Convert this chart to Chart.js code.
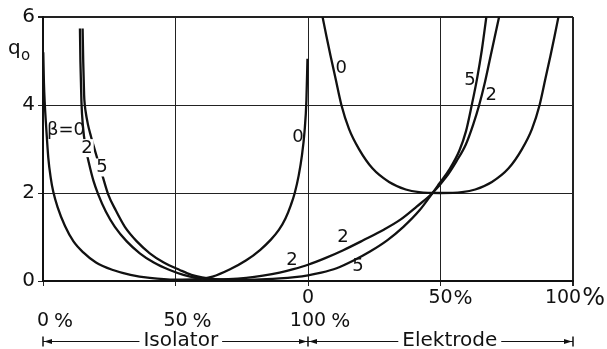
<!DOCTYPE html>
<html>
<head>
<meta charset="utf-8">
<script src="https://cdn.jsdelivr.net/npm/chart.js@4/dist/chart.umd.min.js"></script>
<style>
  html, body { margin: 0; padding: 0; background: #fff; }
  #wrap { width: 607px; height: 349px; position: relative; }
</style>
</head>
<body>
<div id="wrap"><canvas id="c" width="607" height="349"></canvas></div>
<script>
// Position along the gap: 0–100 = Isolator, 100–200 = Elektrode (each in %)
const xTickValues = [0, 50, 100, 150, 200];
const yTickValues = [0, 2, 4, 6];
const isolatorTickLabels = ['0 %', '50 %', '100 %'];   // at 0, 50, 100
const elektrodeTickLabels = ['0', '50%', '100%'];      // at 100, 150, 200

// β = 0, insulator section
const iso0X = [0.1, 0.35, 0.7, 1.2, 2.0, 2.9, 3.9, 5.5, 8.3, 11.5, 15.2, 20, 26.4, 33, 40.3, 50, 58, 64, 70.4, 76.7, 82, 86, 89, 91.5, 93.5, 95, 96.5, 97.7, 98.7, 99.4, 99.8];
const iso0Y = [5.2, 4.5, 4.0, 3.5, 2.8, 2.35, 2.02, 1.68, 1.25, 0.9, 0.65, 0.42, 0.25, 0.14, 0.07, 0.03, 0.04, 0.1, 0.26, 0.47, 0.71, 0.94, 1.16, 1.42, 1.72, 2.0, 2.4, 2.85, 3.4, 4.1, 5.05];

// β = 0, electrode section
const elek0X = [105.5, 107, 108.5, 110.4, 112.6, 115.5, 119.3, 124.3, 130.6, 136.9, 141.9, 150, 158.1, 163.1, 169.4, 175.7, 180.7, 184.5, 187.4, 189.6, 191.5, 193, 194.5];
const elek0Y = [6.0, 5.55, 5.12, 4.6, 4.0, 3.45, 2.99, 2.56, 2.25, 2.08, 2.02, 2.0, 2.02, 2.08, 2.25, 2.56, 2.99, 3.45, 4.0, 4.6, 5.12, 5.55, 6.0];

// β = 2, across both sections
const beta2X = [13.94, 14.12, 14.5, 15.07, 16.01, 17.33, 19.02, 20.83, 23.7, 27.12, 31.6, 36.53, 41.8, 47.8, 53, 58, 64, 70, 76.7, 83, 89.3, 94.5, 100, 106.5, 113.3, 121, 128.4, 135, 141, 147, 152.1, 156, 159.6, 162.3, 164.6, 166.7, 168.5, 170.3, 172.1];
const beta2Y = [5.74, 4.99, 4.08, 3.52, 3.06, 2.68, 2.28, 1.97, 1.58, 1.23, 0.9, 0.63, 0.42, 0.25, 0.14, 0.07, 0.03, 0.04, 0.07, 0.12, 0.19, 0.27, 0.37, 0.52, 0.70, 0.93, 1.16, 1.4, 1.69, 2.0, 2.36, 2.72, 3.11, 3.55, 4.0, 4.5, 5.0, 5.5, 6.0];

// β = 5, across both sections
const beta5X = [14.95, 15.18, 15.52, 15.71, 16.01, 16.95, 18.08, 19.59, 21.09, 22.6, 24.59, 27.5, 30.89, 35.4, 40.3, 45.57, 51.6, 56, 60, 65, 72, 80, 89.3, 95, 100, 105, 110.8, 117, 123.4, 130, 136, 142, 147, 149.5, 153.5, 157.1, 159.6, 161.8, 163.8, 165.6, 167.3];
const beta5Y = [5.74, 4.99, 4.22, 4.04, 3.88, 3.56, 3.29, 2.97, 2.66, 2.36, 1.97, 1.6, 1.23, 0.9, 0.63, 0.42, 0.25, 0.14, 0.08, 0.04, 0.025, 0.03, 0.06, 0.09, 0.13, 0.19, 0.29, 0.46, 0.67, 0.93, 1.23, 1.6, 2.0, 2.21, 2.55, 2.96, 3.4, 4.0, 4.6, 5.25, 6.0];

// Curve captions, anchored in data units
const curveLabels = [
  { text: 'β=0', x: 8.7, y: 3.42, knockout: false },
  { text: '2', x: 16.6, y: 3.02, knockout: true },
  { text: '5', x: 22.3, y: 2.58, knockout: true },
  { text: '0', x: 96.2, y: 3.27, knockout: false },
  { text: '0', x: 112.5, y: 4.83, knockout: false },
  { text: '5', x: 161.1, y: 4.56, knockout: false },
  { text: '2', x: 169.1, y: 4.22, knockout: false },
  { text: '2', x: 113.2, y: 1.0, knockout: false },
  { text: '2', x: 94.0, y: 0.48, knockout: false },
  { text: '5', x: 118.9, y: 0.34, knockout: false }
];

const ink = '#111';
const fam = '"DejaVu Sans", "Liberation Sans", sans-serif';
const pts = (xs, ys) => xs.map((v, i) => ({ x: v, y: ys[i] }));

const curve = (data) => ({
  data,
  borderColor: ink,
  borderWidth: 2.3,
  pointRadius: 0,
  fill: false,
  cubicInterpolationMode: 'monotone'
});

function drawArrow(ctx, tipX, y, dir) {
  ctx.beginPath();
  ctx.moveTo(tipX, y);
  ctx.lineTo(tipX - dir * 8, y - 2.5);
  ctx.lineTo(tipX - dir * 8, y + 2.5);
  ctx.closePath();
  ctx.fill();
}

const annotations = {
  id: 'annotations',
  afterDraw(chart) {
    const { ctx, scales: { x, y } } = chart;
    ctx.save();
    ctx.fillStyle = ink;
    ctx.strokeStyle = ink;

    // captions on the curves
    ctx.font = '18px ' + fam;
    ctx.textAlign = 'center';
    ctx.textBaseline = 'middle';
    curveLabels.forEach(l => {
      const px = x.getPixelForValue(l.x), py = y.getPixelForValue(l.y);
      if (l.knockout) {
        const w = ctx.measureText(l.text).width;
        ctx.fillStyle = '#fff';
        ctx.fillRect(px - w / 2 - 1, py - 9, w + 2, 18);
        ctx.fillStyle = ink;
      }
      ctx.fillText(l.text, px, py);
    });

    // y axis quantity q₀
    ctx.textAlign = 'left';
    ctx.textBaseline = 'alphabetic';
    ctx.font = '20px ' + fam;
    ctx.fillText('q', 8, 54);
    ctx.font = '15px ' + fam;
    ctx.fillText('o', 21, 60);

    // x tick labels: number centred on the grid line, % hanging right
    const drawTick = (label, value, cy, pctSize) => {
      const m = label.match(/^(\d+)(\s?)(%?)$/);
      const num = m[1], gap = m[2] ? 5 : 1, pct = m[3];
      ctx.font = '19px ' + fam;
      const w = ctx.measureText(num).width;
      ctx.font = pctSize + 'px ' + fam;
      const pw = pct ? ctx.measureText(pct).width + gap : 0;
      let cx = x.getPixelForValue(value);
      const overflow = cx + w / 2 + pw - (chart.width - 2);
      if (overflow > 0) cx -= overflow;
      ctx.textBaseline = 'middle';
      ctx.font = '19px ' + fam;
      ctx.textAlign = 'center';
      ctx.fillText(num, cx, cy);
      if (pct) {
        ctx.font = pctSize + 'px ' + fam;
        ctx.textAlign = 'left';
        ctx.fillText(pct, cx + w / 2 + gap, cy + 1);
      }
    };
    elektrodeTickLabels.forEach((t, i) => drawTick(t, xTickValues[i + 2], 298, i === 2 ? 24 : 20));
    isolatorTickLabels.forEach((t, i) => drawTick(t, xTickValues[i], 321, 20));

    // dimension line with the two section names
    const ly = 341.5;
    const x0 = x.getPixelForValue(0), xm = x.getPixelForValue(100), x1 = x.getPixelForValue(200);
    ctx.font = '20px ' + fam;
    ctx.textAlign = 'center';
    ctx.textBaseline = 'middle';
    const sections = [
      { name: 'Isolator', a: x0, b: xm, c: x.getPixelForValue(52) },
      { name: 'Elektrode', a: xm, b: x1, c: x.getPixelForValue(153.5) }
    ];
    ctx.lineWidth = 1;
    sections.forEach(s => {
      const w = ctx.measureText(s.name).width;
      ctx.beginPath();
      ctx.moveTo(s.a, ly); ctx.lineTo(s.c - w / 2 - 4, ly);
      ctx.moveTo(s.c + w / 2 + 4, ly); ctx.lineTo(s.b, ly);
      ctx.stroke();
      ctx.fillText(s.name, s.c, ly - 1);
    });
    ctx.lineWidth = 1.5;
    [x0, xm, x1].forEach(px => {
      ctx.beginPath();
      ctx.moveTo(px, ly - 5); ctx.lineTo(px, ly + 5);
      ctx.stroke();
    });
    drawArrow(ctx, x0 + 1, ly, -1);
    drawArrow(ctx, xm - 1, ly, 1);
    drawArrow(ctx, xm + 1, ly, -1);
    drawArrow(ctx, x1 - 1, ly, 1);

    ctx.restore();
  }
};

new Chart(document.getElementById('c'), {
  type: 'line',
  data: {
    datasets: [
      curve(pts(iso0X, iso0Y)),
      curve(pts(elek0X, elek0Y)),
      curve(pts(beta2X, beta2Y)),
      curve(pts(beta5X, beta5Y))
    ]
  },
  options: {
    responsive: false,
    animation: false,
    events: [],
    layout: { padding: { top: 17, right: 34, left: 0, bottom: 0 } },
    plugins: { legend: { display: false }, tooltip: { enabled: false } },
    scales: {
      x: {
        type: 'linear',
        min: 0, max: 200,
        afterBuildTicks: s => { s.ticks = xTickValues.map(v => ({ value: v })); },
        afterFit: s => { s.height = 68; },
        ticks: { display: false },
        grid: {
          color: '#222',
          lineWidth: c => (c.tick && c.tick.value === 200 ? 2 : 1),
          drawTicks: true,
          tickLength: 5
        },
        border: { color: ink, width: 2 }
      },
      y: {
        min: 0, max: 6,
        afterBuildTicks: s => { s.ticks = yTickValues.map(v => ({ value: v })); },
        afterFit: s => { s.width = 43; },
        ticks: {
          color: ink,
          padding: 3,
          font: { family: fam, size: 20 }
        },
        grid: {
          color: '#222',
          lineWidth: c => (c.tick && c.tick.value === 6 ? 2 : 1),
          drawTicks: true,
          tickLength: 5
        },
        border: { color: ink, width: 2 }
      }
    }
  },
  plugins: [annotations]
});
</script>
</body>
</html>
